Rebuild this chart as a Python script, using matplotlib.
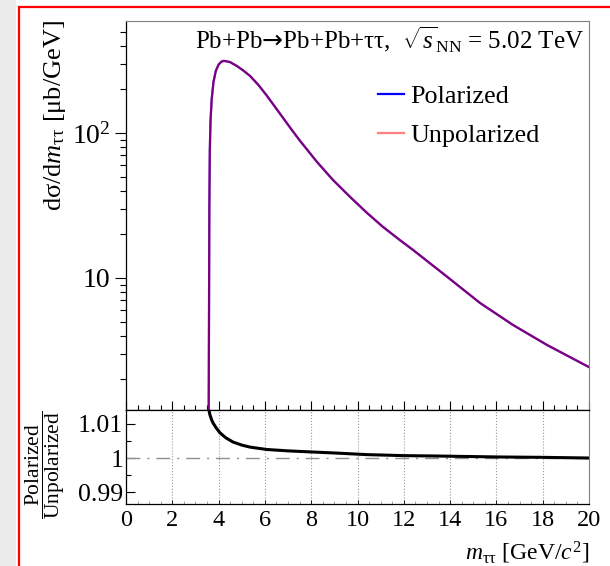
import numpy as np
import matplotlib
matplotlib.use("Agg")
import matplotlib.pyplot as plt
from matplotlib.patches import Rectangle
from matplotlib.ticker import FixedLocator, MultipleLocator, NullFormatter

plt.rcParams['font.family'] = ['Liberation Serif', 'DejaVu Sans']
plt.rcParams['mathtext.fontset'] = 'custom'
plt.rcParams['mathtext.rm'] = 'Liberation Serif'
plt.rcParams['mathtext.it'] = 'Liberation Serif:italic'
plt.rcParams['mathtext.bf'] = 'Liberation Serif:bold'
plt.rcParams['mathtext.sf'] = 'DejaVu Sans'

# cross section d(sigma)/dm [ub/GeV]
mass = [3.56, 3.585, 3.60, 3.62, 3.65, 3.70, 3.78, 3.88, 4.00, 4.12, 4.23, 4.49,
        4.78, 5.07, 5.36, 5.72, 6.08, 6.44, 6.80, 7.16, 7.52, 8.25, 8.94,
        9.68, 10.41, 11.10, 11.84, 12.40, 13.87, 15.29, 16.72, 18.19, 20.0]
xsec_pol = [0.3, 5, 30, 75, 120, 170, 225, 268, 296, 310, 314, 308,
            290, 269, 247, 214, 181, 151, 126, 105, 88.1, 63.1, 47.4,
            36.2, 28.1, 22.5, 18.2, 15.6, 10.2, 6.73, 4.74, 3.45, 2.43]
xsec_unpol = xsec_pol

# ratio polarized / unpolarized
ratio_mass = [3.56, 3.62, 3.70, 3.76, 3.90, 4.06, 4.30, 4.62, 5.00, 5.36, 6.09,
              7.0, 7.95, 8.94, 10.4, 12.0, 13.3, 16.2, 18.0, 20.0]
ratio = [1.0150, 1.0128, 1.0112, 1.0103, 1.0088, 1.0074, 1.0060, 1.0047, 1.0038,
         1.0032, 1.0025, 1.0021, 1.0018, 1.0015, 1.0010, 1.0007, 1.0006, 1.0003,
         1.0002, 1.0000]

W, H = 610, 566
fig = plt.figure(figsize=(W / 100, H / 100), dpi=100)

# screenshot frame
fig.patches.append(Rectangle((0, 0), 16 / W, 1, transform=fig.transFigure,
                             facecolor='#ececec', edgecolor='none', zorder=0))
fig.patches.append(Rectangle((18.5 / W, -0.1), 1.2, 1.1 - 6.5 / H, transform=fig.transFigure,
                             facecolor='none', edgecolor='#ff0000', lw=1.6, zorder=5))

ax1 = fig.add_axes([126 / W, 1 - 410 / H, 463 / W, 389 / H])
ax2 = fig.add_axes([126 / W, 1 - 504 / H, 463 / W, 94 / H], sharex=ax1)

# top panel
ax1.plot(mass, xsec_pol, color='#0000ff', lw=1.6, label='Polarized')
ax1.plot(mass, xsec_unpol, color='#ff0000', alpha=0.5, lw=1.6, label='Unpolarized')
ax1.set_yscale('log')
ax1.set_xlim(0, 20)
ax1.set_ylim(1.23, 591)
ax1.yaxis.set_major_locator(FixedLocator([10, 100]))
ax1.set_yticklabels(['10', '$10^{2}$'])
minors = [m * d for d in (1, 10, 100) for m in range(2, 10)]
ax1.yaxis.set_minor_locator(FixedLocator(minors))
ax1.yaxis.set_minor_formatter(NullFormatter())
ax1.tick_params(axis='y', which='major', direction='out', length=8, width=0.8, labelsize=20, pad=3)
ax1.tick_params(axis='y', which='minor', direction='out', length=4.3, width=0.8)
ax1.xaxis.set_major_locator(MultipleLocator(2))
ax1.xaxis.set_minor_locator(MultipleLocator(0.5))
ax1.tick_params(axis='x', which='major', direction='in', length=6.5, width=0.8, labelbottom=False)
ax1.tick_params(axis='x', which='minor', direction='in', length=3.6, width=0.8)
for s in ('top', 'right'):
    ax1.spines[s].set_color('#808080')
    ax1.spines[s].set_linewidth(0.8)
for s in ('left', 'bottom'):
    ax1.spines[s].set_color('black')
    ax1.spines[s].set_linewidth(0.9)

ax1.text(0.989, 0.9306, r'Pb+Pb$\mathsf{→}$Pb+Pb+ττ,  $\sqrt{s}_{\mathrm{NN}}$ = 5.02 TeV',
         transform=ax1.transAxes, ha='right', va='baseline', fontsize=18)
ax1.legend(loc='upper left', bbox_to_anchor=(0.544, 0.8355), frameon=False,
           fontsize=18.8, handlelength=1.0, handletextpad=0.25, labelspacing=0.58,
           borderpad=0, borderaxespad=0)

# ratio panel
ax2.plot(ratio_mass, ratio, color='black', lw=2.2, zorder=3)
ax2.axhline(1.0, color='#909090', lw=1.0, dashes=(10, 5, 1.5, 5), zorder=2)
ax2.set_ylim(0.9865, 1.0141)
ax2.yaxis.set_major_locator(FixedLocator([0.99, 1.0, 1.01]))
ax2.set_yticklabels(['0.99', '1', '1.01'])
ax2.yaxis.set_minor_locator(FixedLocator([0.995, 1.005]))
ax2.yaxis.set_minor_formatter(NullFormatter())
ax2.tick_params(axis='y', which='major', direction='in', length=6.5, width=0.8, labelsize=18.5, pad=2)
ax2.tick_params(axis='y', which='minor', direction='in', length=3.6, width=0.8)
ax2.tick_params(axis='x', which='major', direction='in', length=3, width=0.6, labelsize=17.5, pad=4)
ax2.tick_params(axis='x', which='minor', direction='in', length=2, width=0.6, color='#999999')
ax2.xaxis.grid(True, which='major', linestyle=':', color='#999999', lw=0.8)
ax2.set_xticks(np.arange(0, 21, 2))
ax2.set_xticklabels([str(v) for v in range(0, 21, 2)])
ax2.spines['right'].set_color('#808080')
ax2.spines['right'].set_linewidth(0.8)
for s in ('left', 'bottom', 'top'):
    ax2.spines[s].set_color('black')
    ax2.spines[s].set_linewidth(0.9)

# axis titles
fig.text(55 / W, 1 - 20 / H, r'dσ/d$m_{\mathrm{ττ}}$ [μb/GeV]', rotation=90,
         ha='center', va='top', fontsize=19)
fig.text(45 / W, 1 - 465 / H, r'$\dfrac{\mathrm{Polarized}}{\mathrm{Unpolarized}}$',
         rotation=90, ha='center', va='center', fontsize=15.5)
fig.text(589 / W, 1 - 553 / H, r'$m_{\mathrm{ττ}}$ [GeV/$c^{2}$]', ha='right', va='center',
         fontsize=17)

fig.savefig('out.png', dpi=100)
